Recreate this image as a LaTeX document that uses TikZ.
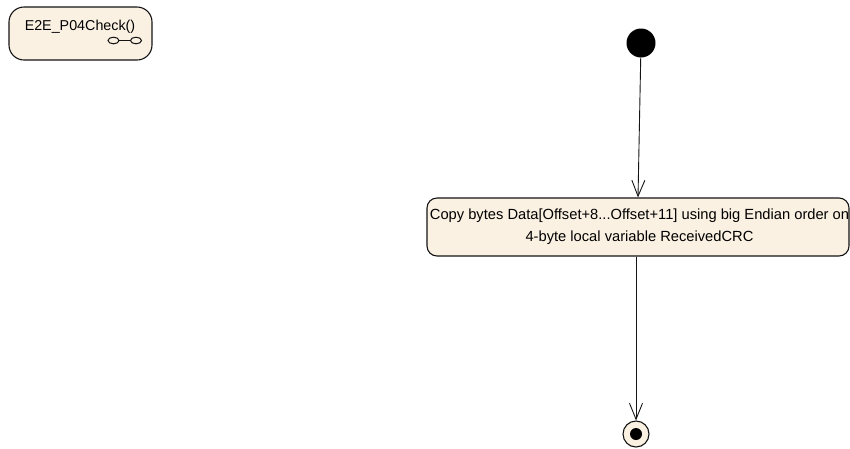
\documentclass[tikz,border=0pt]{standalone}
\usepackage{fontspec}
\setmainfont{Liberation Sans}
\usetikzlibrary{arrows.meta}
\definecolor{actfill}{RGB}{251,241,227}
\definecolor{edgecol}{RGB}{20,20,20}
\tikzset{
  actbox/.style={draw=edgecol, line width=1.1pt, fill=actfill, rounded corners=10pt, align=center, inner sep=0pt},
  flow/.style={draw=edgecol, line width=0.9pt, -{Straight Barb[length=16pt,width=13pt,line width=0.9pt]}},
  txt/.style={font=\fontsize{14.7}{21.5}\selectfont, align=center, inner sep=0pt},
}
\begin{document}
\begin{tikzpicture}[x=1pt,y=-1pt]
\useasboundingbox (0,0) rectangle (850,448);
% activity frame
\node[actbox, rounded corners=15pt, minimum width=143pt, minimum height=53pt] (fn) at (80.5,33.5) {};
\node[txt, font=\fontsize{14.3}{17}\selectfont] (fntext) at (80,27) {E2E\_P04Check()};
\draw[edgecol, line width=1pt] (113.5,40.5) ellipse (5.5pt and 3.3pt);
\draw[edgecol, line width=1pt] (136,40.5) ellipse (5.5pt and 3.3pt);
\draw[edgecol, line width=1pt] (119,40.5) -- (130.5,40.5);
% start
\node[circle, fill=black, minimum size=29pt, inner sep=0pt] (start) at (641,43) {};
% action
\node[actbox, minimum width=422pt, minimum height=58pt] (act) at (638,227) {};
\node[txt] (acttext) at (639.5,226.5) {Copy bytes Data[Offset+8...Offset+11] using big Endian order on\\4-byte local variable ReceivedCRC};
% final
\node[circle, draw=edgecol, line width=1.1pt, fill=actfill, minimum size=26pt, inner sep=0pt] (final) at (636,434) {};
\node[circle, fill=black, minimum size=12pt, inner sep=0pt] (finaldot) at (final) {};
% flows
\draw[flow] (start) -- (act.north);
\draw[flow] (act.south -| final) -- (final);
\end{tikzpicture}
\end{document}
